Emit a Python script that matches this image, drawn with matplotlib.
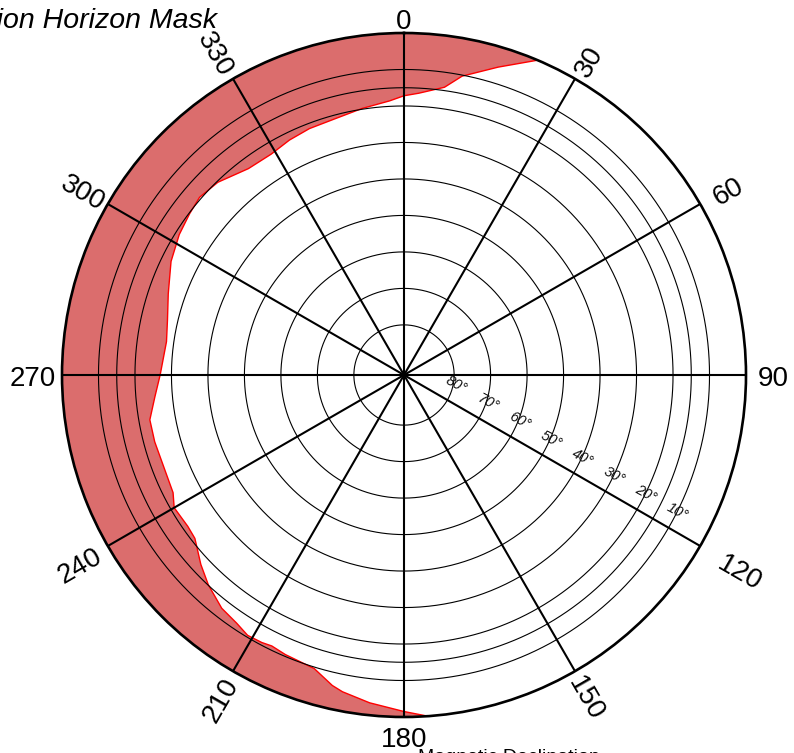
import numpy as np
import matplotlib
matplotlib.use('Agg')
import matplotlib.pyplot as plt
from matplotlib.transforms import offset_copy

plt.rcParams['font.family'] = ['Liberation Sans', 'DejaVu Sans']

# horizon mask: azimuth [deg] -> obstruction elevation [deg]
mask_az = [0, 3, 8, 11, 17, 23, 176, 180, 186, 191, 193, 197, 203, 206, 208,
           211, 214, 218, 223, 227, 232, 235, 240, 243, 248, 255, 260, 265,
           270, 278, 283, 289, 296, 302, 307, 311, 316, 323, 329, 334, 339,
           345, 351, 357]
mask_el = [17.2, 16.4, 14.1, 10.3, 5.5, 0.0, 0.0, 1.5, 3.4, 5.3, 6.4, 9.6,
           10.5, 11.1, 10.7, 10.5, 11.7, 12.6, 15.1, 17.6, 21.0, 21.4, 21.0,
           22.7, 23.2, 23.0, 23.0, 25.2, 26.9, 28.0, 27.2, 25.4, 22.7, 21.1,
           20.2, 19.5, 20.3, 22.9, 23.1, 22.1, 21.4, 21.0, 19.8, 18.5]

ring_el = [80, 70, 60, 50, 40, 30, 20, 15, 10]
ring_labels = ['80°', '70°', '60°', '50°', '40°', '30°', '20°', '10°']
ring_label_el = [80, 70, 60, 50, 40, 30, 20, 10]
spoke_az = [0, 30, 60, 90, 120, 150, 180, 210, 240, 270, 300, 330]
spoke_labels = ['0', '30', '60', '90', '120', '150', '180', '210', '240',
                '270', '300', '330']

R_MIN = -3.74        # zenith sits a little below r=0
R_PX = 342.0         # plot radius in pixels
# extra distance (px) of each azimuth label centre beyond the outer circle
label_pad = [15, 22, 30, 27, 48, 29, 19, 31, 34, 29, 27, 30]

fig = plt.figure(figsize=(7.94, 7.53), dpi=100)
ax = fig.add_axes([62 / 794, 36 / 753, 684 / 794, 684 / 753], projection='polar')
ax.set_theta_zero_location('N')
ax.set_theta_direction(-1)
ax.set_ylim(R_MIN, 90)
ax.grid(False)
ax.set_xticks([])
ax.set_yticks([])
ax.spines['polar'].set_linewidth(1.9)
ax.spines['polar'].set_zorder(5)

# mask polygon, unwrapped so it runs 176 -> 383 deg without crossing the gap
az = np.array(mask_az, dtype=float)
el = np.array(mask_el, dtype=float)
az = np.where(az < 90, az + 360, az)
order = np.argsort(az)
az, el = az[order], el[order]
th = np.deg2rad(az)
ax.fill_between(th, 90 - el, 90, facecolor='#db6d6d', edgecolor='none', zorder=1)
ax.plot(th, 90 - el, color='red', lw=1.0, zorder=2)

# elevation rings
circ = np.linspace(0, 2 * np.pi, 721)
for e in ring_el:
    ax.plot(circ, np.full_like(circ, 90 - e), color='black', lw=0.8, zorder=3)

# azimuth spokes
for a in spoke_az:
    t = np.deg2rad(a)
    ax.plot([t, t], [R_MIN, 90], color='black', lw=1.5, zorder=3,
            solid_capstyle='butt')

# elevation labels, set just above the 120 deg spoke
lab_tr = offset_copy(ax.transData, fig=fig, x=9, y=15.6, units='dots')
for e, s in zip(ring_label_el, ring_labels):
    ax.text(np.deg2rad(120), 90 - e, s, transform=lab_tr, fontsize=10.5,
            style='italic', color='#111111', rotation=-28,
            rotation_mode='anchor', ha='center', va='center', zorder=4)

# azimuth labels, written along the spokes
for a, s, pad in zip(spoke_az, spoke_labels, label_pad):
    if a % 90 == 0:
        rot = 0
    elif a < 180:
        rot = 90 - a
    else:
        rot = 270 - a
    rad = np.deg2rad(a)
    ux, uy = np.sin(rad), np.cos(rad)
    dist = R_PX + pad
    # nudge a few px "down" in the text frame
    rr = np.deg2rad(rot)
    dx, dy = np.sin(rr) * 4, -np.cos(rr) * 4
    px = ux * dist + dx
    py = uy * dist + dy
    ax.text(0.5 + px / 684, 0.5 + py / 684, s, transform=ax.transAxes,
            fontsize=20, rotation=rot, rotation_mode='anchor',
            ha='center', va='center', clip_on=False)

# title runs off the left edge, as in the original figure
fig.text(217 / 794, 1 - 28 / 753, 'Station Horizon Mask', fontsize=20.5,
         style='italic', ha='right', va='baseline')
fig.text(418 / 794, -0.012, 'Magnetic Declination', fontsize=14,
         ha='left', va='baseline')

fig.savefig('out.png', dpi=100)
